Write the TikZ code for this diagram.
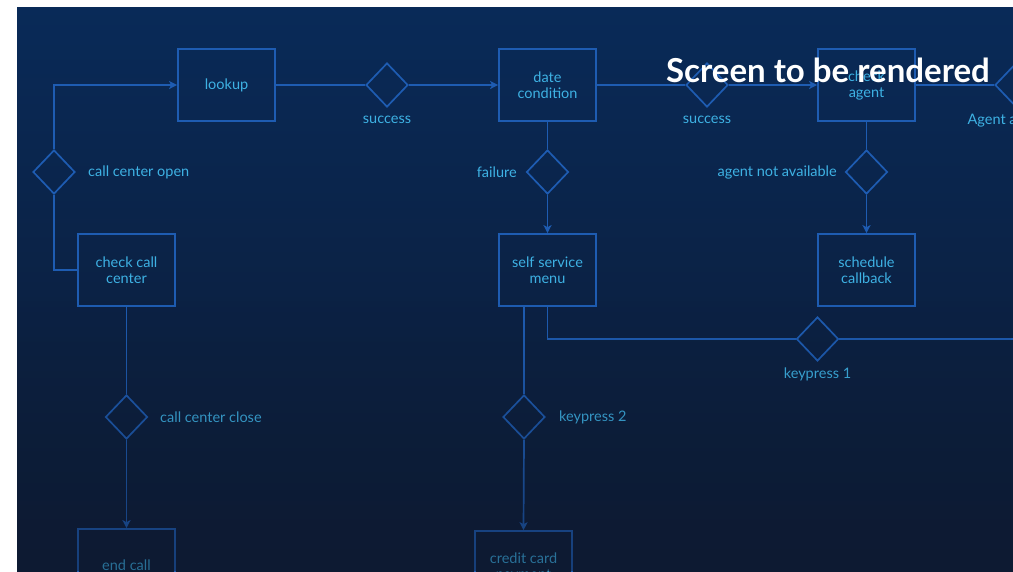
\documentclass[tikz,border=0pt]{standalone}
\usepackage{fontspec}
\usetikzlibrary{shapes.geometric,arrows.meta,fadings}
\newfontfamily\labfont{Lato}
\definecolor{bgtop}{RGB}{9,42,88}
\definecolor{bgmid}{RGB}{10,38,80}
\definecolor{bgbot}{RGB}{13,26,50}
\definecolor{linec}{RGB}{30,92,178}
\definecolor{textc}{RGB}{62,178,228}
\tikzfading[name=fadedown, top color=transparent!100, bottom color=transparent!55]
\tikzset{
  txt/.style={font=\labfont\fontsize{14.5}{16}\selectfont},
  box/.style={draw=linec, line width=1.7pt, minimum width=97pt, minimum height=72pt, inner sep=0pt, align=center, text=textc, txt},
  dia/.style={draw=linec, line width=1.7pt, diamond, minimum width=42pt, minimum height=44pt, inner sep=0pt},
  lbl/.style={text=textc, txt, inner sep=0pt},
  conn/.style={draw=linec, line width=1.7pt},
  arr/.style={conn, -{Stealth[length=8pt,width=8pt,inset=2pt]}},
}
\begin{document}
\begin{tikzpicture}[x=1pt,y=-1pt]
\useasboundingbox (0,0) rectangle (1013,571);
\fill[white] (0,0) rectangle (1013,571);
\begin{scope}
\clip (17,7) rectangle (1013,571);
\shade[top color=bgtop, middle color=bgmid, bottom color=bgbot] (17,7) rectangle (1013,571);
% nodes
\node[box] (lookup) at (226.5,85) {lookup};
\node[dia] (d1) at (387,85) {};
\node[lbl] (l1) at (387,120) {success};
\node[box] (date) at (547.5,85) {date\\condition};
\node[dia] (d2) at (707,85) {};
\node[lbl] (l2) at (707,120) {success};
\node[box] (agent) at (866.5,85) {check\\agent};
\node[dia] (d3) at (1016,85) {};
\node[lbl] (l3) at (1016,120) {Agent available};
\node[dia] (open) at (54,172) {};
\node[lbl, anchor=west] (lopen) at (88,172) {call center open};
\node[box] (checkcc) at (126.5,270) {check call\\center};
\node[dia] (close) at (126.5,417) {};
\node[lbl, anchor=west] (lclose) at (160,417) {call center close};
\node[box] (endcall) at (126.5,565) {end call};
\node[dia] (fail) at (547.5,172) {};
\node[lbl, anchor=east] (lfail) at (517,172) {failure};
\node[box] (self) at (547.5,270) {self service\\menu};
\node[dia] (kp2) at (524,417) {};
\node[lbl, anchor=west] (lkp2) at (559,417) {keypress 2};
\node[box] (credit) at (523.5,567) {credit card\\payment};
\node[dia] (kp1) at (817.5,339) {};
\node[lbl] (lkp1) at (817.5,374) {keypress 1};
\node[dia] (nav) at (866.5,172) {};
\node[lbl, anchor=east] (lnav) at (837,172) {agent not available};
\node[box] (sched) at (866.5,270) {schedule\\callback};
\coordinate (selfL) at (524,306);
\coordinate (selfR) at (547.5,306);
\coordinate (rightend) at (1020,339);
% connectors
\draw[arr] (open.north) |- (lookup.west);
\draw[conn] (open.south) |- (checkcc.west);
\draw[conn] (lookup.east) -- (d1.west);
\draw[arr] (d1.east) -- (date.west);
\draw[conn] (date.east) -- (d2.west);
\draw[arr] (d2.east) -- (agent.west);
\draw[conn] (agent.east) -- (d3.west);
\draw[conn] (date.south) -- (fail.north);
\draw[arr] (fail.south) -- (self.north);
\draw[conn] (agent.south) -- (nav.north);
\draw[arr] (nav.south) -- (sched.north);
\draw[conn] (checkcc.south) -- (close.north);
\draw[arr] (close.south) -- (endcall.north);
\draw[conn] (selfL) -- (kp2.north);
\draw[arr] (kp2.south) -- (credit.north);
\draw[conn] (selfR) |- (kp1.west);
\draw[conn] (kp1.east) -- (rightend);
% fade
\fill[bgbot, path fading=fadedown] (17,300) rectangle (1013,571);
\end{scope}
\node[text=white, font=\labfont\bfseries\fontsize{33}{36}\selectfont, inner sep=0pt] (title) at (828,70) {Screen to be rendered};
\end{tikzpicture}
\end{document}
